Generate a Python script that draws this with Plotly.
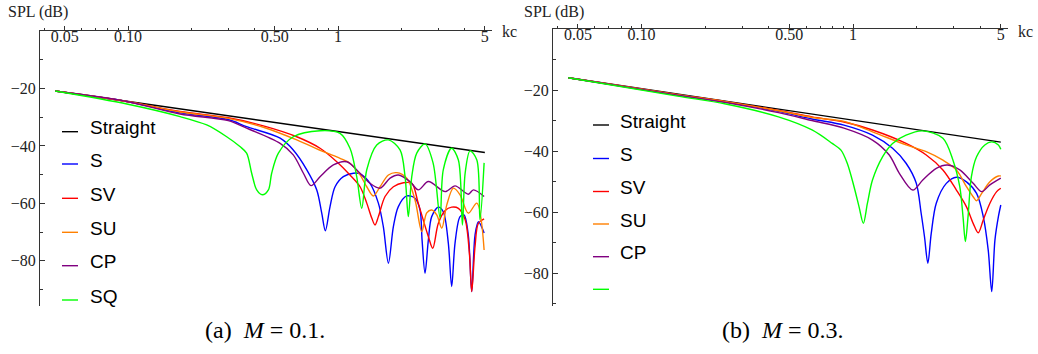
import plotly.graph_objects as go

# ---------------- data: panel (a) M = 0.1 ----------------
A_STRAIGHT_K = [0.045, 5.0]
A_STRAIGHT_SPL = [-20.9, -42.3]

A_S_K = [0.045, 0.1, 0.177, 0.3, 0.367, 0.53, 0.612, 0.71, 0.792, 0.836, 0.87, 0.916, 0.968, 1.06,
         1.183, 1.273, 1.42, 1.556, 1.643, 1.737, 1.834, 1.937, 2.124, 2.326, 2.457, 2.512, 2.595,
         2.692, 2.792, 3.004, 3.17, 3.35, 3.476, 3.606, 3.81, 3.98, 4.17, 4.33, 4.49, 4.66, 4.96]
A_S_SPL = [-20.9, -24.6, -28.5, -30.8, -33.3, -37.3, -41.4, -48.3, -55.3, -63.3, -69.5, -61.1, -54.2,
           -50.7, -49.5, -49.7, -53.0, -59.9, -68.1, -80.8, -68.1, -61.1, -57.4, -58.2, -62.3, -72.7,
           -84.3, -72.7, -64.6, -61.3, -62.9, -73.8, -88.9, -73.8, -64.6, -64.0, -71.0, -90.7, -71.0,
           -66.4, -70.3]

A_SV_K = [0.045, 0.1, 0.177, 0.3, 0.441, 0.636, 0.821, 0.986, 1.14, 1.273, 1.37, 1.447, 1.5, 1.556,
          1.674, 1.834, 2.047, 2.244, 2.41, 2.69, 2.824, 3.0, 3.235, 3.476, 3.74, 4.03, 4.22, 4.33,
          4.49, 4.66, 4.96]
A_SV_SPL = [-20.9, -24.6, -28.0, -30.2, -33.0, -36.8, -40.8, -45.5, -50.1, -54.2, -59.9, -65.1, -67.5,
            -64.6, -57.6, -54.2, -52.8, -53.0, -60.0, -71.5, -75.6, -67.0, -62.5, -61.3, -61.7, -65.7,
            -77.3, -90.7, -75.0, -66.9, -65.4]

A_SU_K = [0.045, 0.1, 0.177, 0.3, 0.441, 0.636, 0.851, 1.022, 1.14, 1.273, 1.37, 1.472, 1.585, 1.737,
          1.904, 2.124, 2.326, 2.504, 2.644, 2.792, 2.951, 3.118, 3.294, 3.541, 3.81, 4.17, 4.58, 4.96]
A_SU_SPL = [-20.9, -24.6, -28.2, -30.4, -33.5, -37.9, -42.0, -44.3, -46.0, -50.1, -54.2, -57.4, -54.2,
            -50.1, -49.3, -51.2, -58.8, -69.8, -63.3, -62.3, -64.0, -68.6, -60.5, -54.7, -57.0, -63.4,
            -59.9, -76.2]

A_CP_K = [0.045, 0.1, 0.177, 0.3, 0.367, 0.53, 0.612, 0.684, 0.744, 0.821, 0.95, 1.10, 1.273, 1.42,
          1.585, 1.769, 1.937, 2.202, 2.41, 2.692, 3.235, 3.606, 4.17, 4.41, 4.96]
A_CP_SPL = [-20.9, -24.6, -28.9, -31.2, -33.8, -39.1, -43.1, -49.5, -53.8, -50.7, -46.6, -45.5, -49.5,
            -53.0, -54.7, -51.2, -50.1, -52.4, -55.3, -52.4, -55.9, -53.9, -56.8, -55.3, -57.6]

A_SQ_K = [0.045, 0.1, 0.177, 0.237, 0.295, 0.341, 0.367, 0.388, 0.41, 0.436, 0.466, 0.483, 0.52, 0.612,
          0.821, 1.022, 1.14, 1.227, 1.297, 1.37, 1.528, 1.737, 1.973, 2.085, 2.161, 2.244, 2.37,
          2.595, 2.834, 3.06, 3.17, 3.47, 3.74, 3.91, 4.03, 4.25, 4.58, 4.74, 4.96]
A_SQ_SPL = [-20.9, -25.5, -29.8, -32.7, -36.8, -40.2, -42.5, -49.5, -55.3, -57.0, -55.3, -49.5, -42.5,
            -36.8, -34.7, -35.6, -40.8, -50.7, -61.7, -48.3, -39.7, -37.9, -41.4, -50.7, -64.6, -50.7,
            -42.5, -39.3, -45.9, -65.0, -48.3, -40.8, -44.9, -67.5, -49.4, -41.7, -44.9, -65.7, -45.9]

# ---------------- data: panel (b) M = 0.3 ----------------
B_STRAIGHT_K = [0.045, 5.0]
B_STRAIGHT_SPL = [-16.0, -37.1]

B_S_K = [0.045, 0.148, 0.25, 0.444, 0.64, 0.906, 1.236, 1.538, 1.782, 1.99, 2.10, 2.178, 2.259, 2.344,
         2.476, 2.762, 3.083, 3.44, 3.84, 4.13, 4.36, 4.53, 4.69, 4.87, 5.0]
B_S_SPL = [-16.0, -21.6, -23.9, -27.0, -29.5, -31.5, -34.8, -39.1, -44.0, -50.5, -60.4, -68.1, -76.8,
           -67.0, -57.1, -50.6, -48.6, -50.1, -53.9, -61.5, -72.5, -86.1, -69.2, -61.5, -57.7]

B_SV_K = [0.045, 0.148, 0.25, 0.444, 0.64, 0.906, 1.236, 1.782, 2.22, 2.662, 3.083, 3.44, 3.70, 3.91,
          4.13, 4.44, 4.78, 5.0]
B_SV_SPL = [-16.0, -21.5, -23.8, -26.7, -28.8, -30.5, -33.1, -37.5, -41.3, -46.2, -52.8, -58.3, -63.7,
            -66.8, -62.6, -57.1, -53.3, -52.2]

B_SU_K = [0.045, 0.148, 0.25, 0.444, 0.64, 0.906, 1.236, 1.782, 2.22, 2.662, 3.083, 3.44, 3.70, 3.84,
          4.06, 4.44, 4.87, 5.0]
B_SU_SPL = [-16.0, -21.5, -23.8, -26.8, -29.0, -30.3, -33.7, -38.0, -40.2, -43.0, -46.2, -51.7, -55.0,
            -56.3, -53.9, -50.1, -48.2, -48.2]

B_CP_K = [0.045, 0.148, 0.25, 0.444, 0.64, 0.906, 1.236, 1.484, 1.656, 1.917, 2.138, 2.476, 2.80,
          3.198, 3.70, 4.06, 4.44, 5.0]
B_CP_SPL = [-16.0, -21.7, -24.1, -27.4, -30.0, -32.5, -36.4, -41.3, -47.3, -52.8, -49.5, -45.7, -44.6,
            -46.2, -50.6, -53.3, -51.1, -48.9]

B_SQ_K = [0.045, 0.148, 0.25, 0.444, 0.64, 0.797, 0.877, 0.939, 1.011, 1.068, 1.119, 1.17, 1.236, 1.379,
          1.538, 1.782, 2.138, 2.662, 2.97, 3.198, 3.313, 3.40, 3.50, 3.63, 3.84, 4.2, 4.53, 4.87, 5.0]
B_SQ_SPL = [-16.0, -22.0, -24.6, -28.8, -33.1, -37.5, -39.7, -44.0, -51.7, -58.3, -63.7, -57.1, -49.5,
            -41.9, -37.5, -34.8, -33.4, -35.8, -43.0, -51.7, -61.5, -69.7, -61.5, -48.4, -41.9, -38.0,
            -37.0, -38.0, -39.4]

SERIES_NAMES = ["Straight", "S", "SV", "SU", "CP", "SQ"]
LEGEND_A = ["Straight", "S", "SV", "SU", "CP", "SQ"]
LEGEND_B = ["Straight", "S", "SV", "SU", "CP", ""]
COLORS = ["#000000", "#0000ff", "#ff0000", "#ff8000", "#800080", "#00ff00"]

X_TICKS = [0.05, 0.1, 0.5, 1, 5]
X_TICKTEXT = ["0.05", "0.10", "0.50", "1", "5"]
X_MINOR = [0.04, 0.06, 0.07, 0.08, 0.09, 0.2, 0.3, 0.4, 0.6, 0.7, 0.8, 0.9, 2, 3, 4]
Y_TICKS = [-20, -40, -60, -80]
Y_MINOR = [-10, -30, -50, -70, -90]

W, H = 1038, 354
def px(x):
    return x / W
def py(y):
    return 1 - y / H

panel_a = [(A_STRAIGHT_K, A_STRAIGHT_SPL), (A_S_K, A_S_SPL), (A_SV_K, A_SV_SPL),
           (A_SU_K, A_SU_SPL), (A_CP_K, A_CP_SPL), (A_SQ_K, A_SQ_SPL)]
panel_b = [(B_STRAIGHT_K, B_STRAIGHT_SPL), (B_S_K, B_S_SPL), (B_SV_K, B_SV_SPL),
           (B_SU_K, B_SU_SPL), (B_CP_K, B_CP_SPL), (B_SQ_K, B_SQ_SPL)]

fig = go.Figure()
for (k, s), name, c in zip(panel_a, SERIES_NAMES, COLORS):
    fig.add_trace(go.Scatter(x=k, y=s, mode="lines", name=name, xaxis="x", yaxis="y",
                             line=dict(color=c, width=1.4, shape="spline", smoothing=0.9),
                             showlegend=False))
for (k, s), name, c in zip(panel_b, SERIES_NAMES, COLORS):
    fig.add_trace(go.Scatter(x=k, y=s, mode="lines", name=name, xaxis="x2", yaxis="y2",
                             line=dict(color=c, width=1.4, shape="spline", smoothing=0.9),
                             showlegend=False))

AX = "#333333"
tickfont = dict(family="Liberation Serif", size=16, color="#222222")

def xaxis(domain, anchor):
    return dict(type="log", range=[-1.419, 0.733], domain=domain, anchor=anchor, side="top",
                automargin=False,
                showline=True, linecolor=AX, linewidth=1, showgrid=False, zeroline=False,
                ticks="outside", ticklen=4, tickcolor=AX, tickvals=X_TICKS, ticktext=X_TICKTEXT,
                ticklabelposition="inside", tickfont=tickfont,
                minor=dict(tickvals=X_MINOR, ticks="outside", ticklen=2, tickcolor=AX, showgrid=False))

def yaxis(domain, anchor, rng):
    return dict(range=rng, domain=domain, anchor=anchor, automargin=False,
                showline=True, linecolor=AX, linewidth=1,
                showgrid=False, zeroline=False, ticks="inside", ticklen=5, tickcolor=AX,
                tickvals=Y_TICKS, tickfont=tickfont,
                minor=dict(tickvals=Y_MINOR, ticks="inside", ticklen=3, tickcolor=AX, showgrid=False))

shapes = []
annotations = []

def legend(x0, x1, xt, ys_line, labels):
    for y, lab, c in zip(ys_line, labels, COLORS):
        shapes.append(dict(type="line", xref="paper", yref="paper", x0=px(x0), x1=px(x1),
                           y0=py(y), y1=py(y), line=dict(color=c, width=1.4)))
        if lab:
            annotations.append(dict(text=lab, xref="paper", yref="paper", x=px(xt), y=py(y - 4),
                                    xanchor="left", yanchor="middle", showarrow=False,
                                    font=dict(family="Liberation Sans", size=19, color="#000000")))

legend(62, 78, 88, [131.7, 164, 198.3, 232.3, 265.7, 300], LEGEND_A)
legend(593, 609, 618, [125, 158.5, 191.5, 224, 256.7, 289.3], LEGEND_B)

labfont = dict(family="Liberation Serif", size=16, color="#222222")
for xl, xk in [(6, 500), (522, 1016)]:
    annotations.append(dict(text="SPL (dB)", xref="paper", yref="paper", x=px(xl), y=py(12),
                            xanchor="left", yanchor="middle", showarrow=False, font=labfont))
    annotations.append(dict(text="kc", xref="paper", yref="paper", x=px(xk), y=py(31),
                            xanchor="left", yanchor="middle", showarrow=False, font=labfont))

capfont = dict(family="Liberation Serif", size=24, color="#000000")
annotations.append(dict(text="(a)  <i>M</i> = 0.1.", xref="paper", yref="paper", x=px(265), y=py(330),
                        xanchor="center", yanchor="middle", showarrow=False, font=capfont))
annotations.append(dict(text="(b)  <i>M</i> = 0.3.", xref="paper", yref="paper", x=px(783), y=py(330),
                        xanchor="center", yanchor="middle", showarrow=False, font=capfont))

fig.update_layout(
    width=W, height=H, margin=dict(l=0, r=0, t=0, b=0, autoexpand=False),
    paper_bgcolor="white", plot_bgcolor="white", showlegend=False,
    xaxis=xaxis([px(40), px(492)], "y"),
    yaxis=yaxis([1 - 306 / H, 1 - 31 / H], "x", [-95.7, 0]),
    xaxis2=xaxis([px(553), px(1008)], "y2"),
    yaxis2=yaxis([1 - 306 / H, 1 - 29 / H], "x2", [-90.8, 0]),
    shapes=shapes, annotations=annotations,
)

fig.write_html("out.html", config={"displayModeBar": False},
               post_script="document.body.style.margin='0';document.body.style.overflow='hidden';")
